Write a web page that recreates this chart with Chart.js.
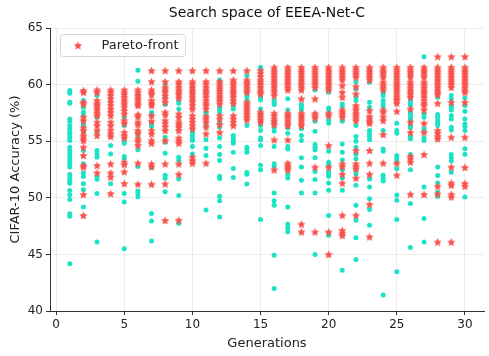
<!DOCTYPE html>
<html>
<head>
<meta charset="utf-8">
<script src="https://cdn.jsdelivr.net/npm/chart.js@4.4.1/dist/chart.umd.min.js"></script>
<style>
  html, body { margin: 0; padding: 0; background: #fff; }
  #wrap { width: 489px; height: 356px; }
</style>
</head>
<body>
<div id="wrap"><canvas id="search-space"></canvas></div>
<script>
// Generations 1..30 and accuracy (%) of sampled architectures per generation
const generations = [1, 2, 3, 4, 5, 6, 7, 8, 9, 10, 11, 12, 13, 14, 15,
                     16, 17, 18, 19, 20, 21, 22, 23, 24, 25, 26, 27, 28, 29, 30];

// Pareto-front members, one list per generation
const paretoAcc = [
    [],
    [59.47, 59.32, 58.44, 58.29, 57.12, 56.82, 56.18, 55.94, 55.5, 55.29, 55.06, 54.47, 53.74, 52.85, 52.71, 50.29, 48.44],
    [59.53, 59.32, 58.59, 58.35, 58.15, 57.94, 57.71, 57.47, 57.26, 56.68, 56.38, 55.94, 55.5, 52.85, 52.2],
    [59.53, 59.32, 59.03, 58.74, 58.44, 58.15, 57.85, 57.56, 57.26, 56.68, 56.38, 55.94, 55.65, 55.41, 53.0, 52.2, 51.82, 50.37],
    [59.53, 59.32, 59.12, 58.88, 58.65, 58.44, 58.24, 58.0, 57.71, 57.41, 56.82, 56.59, 55.79, 55.5, 55.29, 53.15, 52.94, 52.3, 51.26],
    [59.53, 59.32, 59.03, 58.82, 58.59, 58.35, 58.15, 57.35, 57.18, 56.68, 56.47, 55.94, 55.71, 55.21, 55.0, 54.62, 53.06, 51.2],
    [61.24, 60.26, 59.53, 59.32, 59.12, 58.59, 58.35, 58.15, 57.26, 56.76, 55.94, 55.65, 55.06, 54.82, 53.0, 52.76, 51.2],
    [61.24, 60.26, 59.76, 59.53, 59.32, 59.03, 58.74, 58.44, 57.56, 57.35, 56.82, 56.59, 56.29, 55.94, 55.06, 53.0, 51.23, 48.0],
    [61.24, 60.26, 60.06, 59.76, 59.53, 59.32, 59.12, 58.82, 57.41, 57.12, 56.68, 56.47, 56.24, 55.94, 55.29, 55.06, 54.82, 53.0, 52.08, 48.02],
    [61.24, 60.26, 60.06, 59.76, 59.53, 59.32, 59.12, 58.88, 58.65, 58.44, 58.15, 57.85, 57.26, 56.97, 56.68, 56.38, 56.09, 53.59, 53.29, 53.06],
    [61.24, 60.26, 60.06, 59.76, 59.53, 59.32, 59.12, 58.88, 58.59, 58.35, 58.15, 57.85, 57.18, 56.97, 56.68, 56.24, 55.65, 53.06],
    [61.24, 60.26, 60.06, 59.82, 59.62, 59.41, 59.18, 58.94, 58.74, 58.53, 58.29, 57.26, 56.97, 56.47, 55.79],
    [61.24, 60.41, 60.21, 60.0, 59.76, 59.53, 59.32, 59.12, 58.88, 58.59, 58.35, 57.26, 56.97, 56.68, 56.38],
    [61.24, 60.41, 60.21, 60.0, 59.76, 59.53, 59.32, 58.44, 58.24, 58.0, 57.76, 57.56, 57.35, 57.12, 56.88],
    [61.24, 61.0, 60.71, 60.41, 60.21, 60.0, 59.76, 59.53, 59.32, 59.18, 57.56, 57.35, 57.12, 56.88, 56.68],
    [61.53, 61.29, 61.09, 60.88, 60.65, 60.41, 60.21, 60.0, 59.76, 59.53, 59.32, 59.03, 57.47, 57.26, 56.97, 56.76, 56.47, 55.12, 52.47],
    [61.53, 61.29, 61.09, 60.88, 60.65, 60.41, 60.21, 60.0, 59.76, 59.53, 57.47, 57.26, 57.06, 56.82, 56.59, 56.38, 55.12, 53.06, 52.85, 52.65, 52.47],
    [61.53, 61.29, 61.09, 60.88, 60.65, 60.41, 60.21, 60.0, 59.76, 59.53, 58.74, 57.47, 57.26, 57.06, 56.82, 56.59, 56.38, 47.67, 46.98],
    [61.53, 61.29, 61.09, 60.88, 60.65, 60.41, 60.21, 60.0, 59.76, 58.74, 57.47, 57.26, 57.06, 52.71, 46.98],
    [61.53, 61.29, 61.09, 60.88, 60.65, 60.41, 60.21, 60.0, 59.76, 59.53, 57.47, 57.26, 54.62, 52.71, 46.98, 45.0],
    [61.53, 61.29, 61.09, 60.88, 60.65, 60.41, 59.91, 59.32, 58.88, 57.76, 57.56, 57.35, 57.12, 53.0, 52.76, 52.08, 51.3, 48.46, 47.12, 46.88, 46.68],
    [61.53, 61.29, 61.09, 60.88, 60.65, 59.82, 59.18, 58.15, 57.94, 57.71, 57.47, 57.26, 57.06, 56.82, 54.18, 53.0, 52.76, 52.56, 51.74, 48.46],
    [61.53, 61.29, 61.09, 60.88, 60.65, 60.41, 57.71, 57.18, 56.97, 56.76, 56.59, 54.18, 53.06, 52.08, 49.43, 46.55],
    [61.53, 61.29, 61.09, 60.88, 60.65, 60.21, 60.0, 59.76, 59.53, 57.76, 57.56, 57.12, 56.82, 55.59, 53.06],
    [61.53, 61.29, 61.09, 60.88, 60.65, 60.41, 60.21, 60.0, 59.82, 59.62, 59.41, 59.18, 58.94, 58.74, 58.59, 58.35, 57.65, 53.06, 52.0],
    [61.53, 61.29, 61.09, 60.88, 60.65, 60.21, 60.0, 59.76, 59.53, 59.32, 59.12, 58.88, 57.85, 56.68, 55.79, 53.65, 53.44, 53.15, 50.31],
    [61.53, 61.29, 61.09, 60.88, 60.65, 60.21, 60.0, 59.76, 59.53, 59.32, 59.12, 58.88, 58.59, 58.35, 58.15, 57.76, 56.59, 55.79, 53.82, 50.3],
    [62.47, 61.53, 61.29, 61.09, 60.88, 60.65, 60.41, 60.21, 60.0, 59.76, 59.53, 59.32, 59.12, 58.35, 55.94, 55.71, 55.41, 55.21, 51.02, 50.33, 46.09],
    [62.47, 61.53, 61.29, 61.09, 60.88, 60.65, 60.41, 60.21, 60.0, 59.76, 58.44, 55.35, 52.71, 51.31, 51.11, 50.31, 50.08, 46.09],
    [62.47, 61.53, 61.29, 61.09, 60.88, 60.65, 60.41, 60.21, 60.0, 59.76, 59.53, 59.32, 58.44, 55.35, 52.68, 51.27, 51.02]
];

// Remaining sampled architectures, one list per generation
const searchAcc = [
    [59.47, 59.24, 58.44, 58.35, 56.97, 56.76, 56.38, 56.09, 55.79, 55.65, 55.41, 55.21, 55.06, 54.47, 54.18, 53.88, 53.59, 53.29, 53.0, 52.71, 52.06, 51.76, 51.47, 51.29, 50.65, 50.26, 49.85, 48.59, 48.38, 44.18],
    [58.59, 58.0, 57.56, 57.26, 56.68, 56.38, 55.79, 54.18, 53.0, 52.18, 51.88, 51.24, 50.71, 49.18],
    [59.03, 57.12, 55.79, 54.18, 53.88, 53.59, 51.87, 51.63, 50.38, 46.1],
    [54.62, 53.88, 51.24],
    [57.12, 56.38, 55.06, 54.82, 53.65, 53.44, 50.38, 49.64, 45.5],
    [61.26, 60.3, 59.18, 55.79, 55.5, 54.24, 52.76, 50.59, 50.37, 50.1],
    [57.56, 57.35, 56.53, 56.29, 52.65, 48.62, 47.96, 46.19],
    [60.06, 58.88, 58.24, 55.35, 54.91, 53.94, 52.0, 51.72, 50.54],
    [58.59, 58.35, 57.85, 53.59, 53.29, 51.65, 50.21, 47.75],
    [55.79, 55.5, 55.21, 55.06, 54.53, 53.88],
    [57.56, 57.41, 56.47, 55.12, 54.38, 53.74, 48.92],
    [60.41, 58.0, 57.76, 57.56, 56.68, 56.24, 55.29, 54.53, 53.82, 53.29, 51.9, 51.7, 50.14, 49.73, 48.31],
    [58.15, 57.85, 55.5, 55.29, 55.06, 54.82, 54.03, 52.58, 51.8],
    [60.79, 59.18, 58.88, 58.59, 56.38, 54.47, 54.24, 54.03, 52.24, 52.08, 51.22],
    [61.53, 61.38, 58.88, 58.65, 57.85, 57.41, 56.38, 55.94, 55.29, 55.12, 54.62, 52.87, 52.48, 48.08],
    [58.59, 58.35, 58.24, 56.68, 56.24, 55.88, 54.53, 53.0, 52.76, 50.43, 49.73, 49.34, 44.93, 41.98],
    [58.74, 57.76, 57.26, 56.18, 55.71, 54.53, 54.32, 52.04, 51.74, 49.19, 47.67, 47.33, 47.0],
    [58.24, 58.0, 57.76, 56.09, 55.5, 55.06, 53.53, 52.71, 51.55, 50.43],
    [59.53, 56.76, 55.88, 54.71, 54.47, 54.24, 53.53, 52.33, 51.61, 50.43, 45.0],
    [59.32, 57.94, 57.76, 56.82, 56.59, 54.12, 53.15, 52.94, 52.28, 52.08, 51.9, 51.31, 50.67, 48.43, 46.69],
    [58.29, 58.06, 56.97, 56.76, 54.76, 54.03, 53.35, 52.47, 51.74, 50.67, 43.6],
    [60.21, 59.62, 58.88, 58.59, 56.38, 55.41, 55.0, 54.47, 53.88, 53.44, 52.4, 52.1, 51.11, 49.34, 48.02, 46.48, 44.55],
    [60.21, 58.44, 58.0, 55.94, 55.65, 55.41, 55.12, 51.65, 50.96, 49.91, 48.96, 47.58],
    [59.32, 59.03, 58.59, 58.29, 58.06, 55.94, 54.32, 54.12, 51.99, 51.7, 51.48, 41.41],
    [56.59, 55.94, 55.71, 53.74, 53.53, 53.29, 52.56, 50.24, 49.78, 48.08, 43.46],
    [58.59, 58.35, 58.15, 57.56, 57.35, 57.12, 56.88, 56.38, 56.18, 55.41, 55.21, 53.82, 52.47, 49.49, 45.61],
    [62.47, 57.41, 57.12, 56.09, 55.88, 55.29, 55.06, 50.96, 48.17, 46.1],
    [58.88, 57.35, 57.12, 56.82, 56.59, 56.38, 52.73, 51.98, 51.31, 50.5, 50.11],
    [59.03, 58.74, 58.15, 57.94, 57.76, 57.26, 56.97, 56.24, 56.0, 53.82, 53.53, 53.24, 52.26],
    [58.82, 58.15, 57.65, 56.97, 56.53, 56.29, 55.94, 54.34, 53.85, 50.08]
];

const xTicks = [0, 5, 10, 15, 20, 25, 30];
const yTicks = [40, 45, 50, 55, 60, 65];

const RED = '#f7534c';
const CYAN = '#1de3c6';
const FONT = '"DejaVu Sans", sans-serif';

// flatten the per-generation lists into {x, y} points
function toPoints(lists) {
    const pts = [];
    lists.forEach((accs, i) => {
        accs.forEach(a => pts.push({ x: generations[i], y: a }));
    });
    return pts;
}

// filled five-point star, matplotlib style '*' marker
function makeStar(color, r) {
    const size = Math.ceil(r * 2 + 2);
    const c = document.createElement('canvas');
    c.width = size;
    c.height = size;
    const ctx = c.getContext('2d');
    ctx.fillStyle = color;
    ctx.beginPath();
    for (let i = 0; i < 10; i++) {
        const rad = i % 2 ? r * 0.48 : r;
        const a = -Math.PI / 2 + i * Math.PI / 5;
        ctx.lineTo(size / 2 + rad * Math.cos(a), size / 2 + 0.4 + rad * Math.sin(a));
    }
    ctx.closePath();
    ctx.fill();
    return c;
}

const star = makeStar(RED, 4.3);

// framed legend drawn inside the plot, upper left
const innerLegend = {
    id: 'innerLegend',
    afterDraw(chart) {
        const ctx = chart.ctx;
        const area = chart.chartArea;
        const x = area.left + 10.5, y = area.top + 6.5, w = 125, h = 22;
        ctx.save();
        ctx.beginPath();
        ctx.roundRect(x, y, w, h, 3);
        ctx.fillStyle = 'rgba(255,255,255,0.8)';
        ctx.fill();
        ctx.strokeStyle = '#d6d6d6';
        ctx.lineWidth = 1;
        ctx.stroke();
        ctx.drawImage(star, x + 17.5 - star.width / 2, y + h / 2 - star.height / 2);
        ctx.fillStyle = '#222';
        ctx.font = '13px ' + FONT;
        ctx.textBaseline = 'middle';
        ctx.fillText(chart.data.datasets[0].label, x + 41, y + h / 2 + 0.5);
        ctx.restore();
    }
};

const ctx = document.getElementById('search-space').getContext('2d');
new Chart(ctx, {
    type: 'scatter',
    data: {
        datasets: [{
            label: 'Pareto-front',
            data: toPoints(paretoAcc),
            pointStyle: star,
            backgroundColor: RED,
            borderColor: RED
        }, {
            label: 'Search space',
            data: toPoints(searchAcc),
            pointStyle: 'circle',
            pointRadius: 2.5,
            backgroundColor: CYAN,
            borderColor: CYAN,
            borderWidth: 0
        }]
    },
    options: {
        responsive: true,
        maintainAspectRatio: false,
        animation: false,
        layout: { padding: { left: 0, right: 0, top: 0, bottom: 0 } },
        plugins: {
            legend: { display: false },
            tooltip: { enabled: false },
            title: {
                display: true,
                text: 'Search space of EEEA-Net-C',
                fullSize: false,
                color: '#111',
                font: { family: FONT, size: 14, weight: 'normal' },
                padding: { top: 5, bottom: 6.2 }
            }
        },
        scales: {
            x: {
                type: 'linear',
                min: -0.45,
                max: 31.4,
                afterBuildTicks: s => { s.ticks = xTicks.map(v => ({ value: v })); },
                afterFit: s => { s.height = 45; },
                grid: { color: '#ececec', tickColor: '#333', tickLength: 4, lineWidth: 1 },
                border: { color: '#333', width: 1 },
                ticks: { color: '#222', font: { family: FONT, size: 12 }, padding: 3, maxRotation: 0 },
                title: {
                    display: true,
                    text: 'Generations',
                    color: '#222',
                    font: { family: FONT, size: 13 },
                    padding: { top: 0, bottom: 5 }
                }
            },
            y: {
                min: 40,
                max: 65,
                afterBuildTicks: s => { s.ticks = yTicks.map(v => ({ value: v })); },
                afterFit: s => { s.width = 50; },
                grid: { color: '#ececec', tickColor: '#333', tickLength: 4, lineWidth: 1 },
                border: { color: '#333', width: 1 },
                ticks: { color: '#222', font: { family: FONT, size: 12 }, padding: 3 },
                title: {
                    display: true,
                    text: 'CIFAR-10 Accuracy (%)',
                    color: '#222',
                    font: { family: FONT, size: 13 },
                    padding: { top: 8, bottom: 0 }
                }
            }
        }
    },
    plugins: [innerLegend]
});
</script>
</body>
</html>
